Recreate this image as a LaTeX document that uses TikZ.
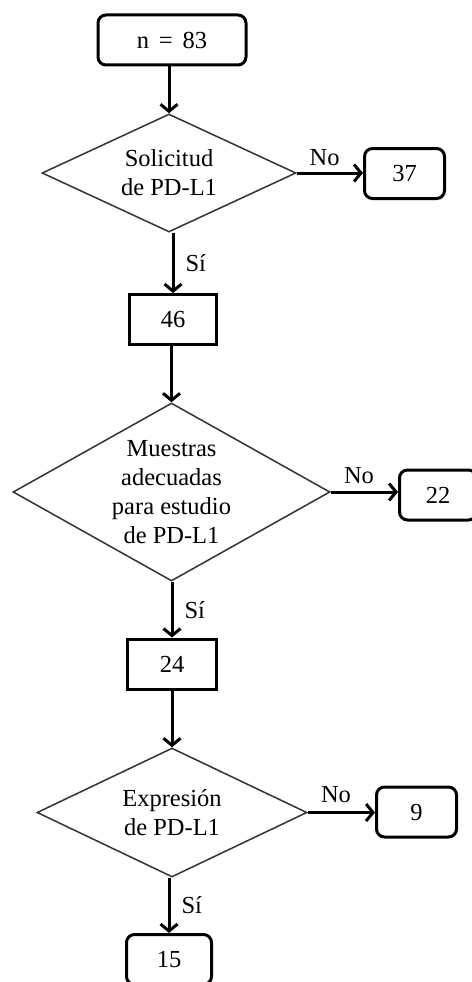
\documentclass[tikz,border=0pt]{standalone}
\usepackage{fontspec}
\setmainfont{Liberation Serif}
\usetikzlibrary{shapes.geometric,arrows.meta}
\begin{document}
\begin{tikzpicture}[x=1pt,y=-1pt,
  txt/.style={font=\fontsize{24.5}{29}\selectfont, align=center, inner sep=0pt},
  rbox/.style={draw, line width=3pt, rounded corners=8pt, minimum height=50pt, inner sep=0pt, font=\fontsize{24.5}{29}\selectfont},
  sbox/.style={rbox, rounded corners=0pt},
  dec/.style={draw=black!80, line width=1.5pt, shape=diamond, inner sep=0pt},
  arr/.style={line width=3pt, -{Straight Barb[length=7pt,width=17pt]}},
  lab/.style={font=\fontsize{24.5}{29}\selectfont, inner sep=2pt}
]
\useasboundingbox (0,0) rectangle (471,982);
\fill[white] (0,0) rectangle (471,982);

\node[rbox, minimum width=148pt] (start) at (172,40) {\spaceskip=0.4em n = 83};

\node[dec, minimum width=254pt, minimum height=118pt] (d1) at (169,173) {};
\node[txt] (t1) at (d1) {Solicitud\\de PD-L1};
\node[rbox, minimum width=80pt] (b37) at (404.5,173.5) {37};
\node[sbox, minimum width=87pt] (b46) at (173,319.5) {46};

\node[dec, minimum width=317pt, minimum height=178pt] (d2) at (171.5,492) {};
\node[txt] (t2) at (d2) {Muestras\\adecuadas\\para estudio\\de PD-L1};
\node[rbox, minimum width=77pt] (b22) at (438,495) {22};
\node[sbox, minimum width=89pt] (b24) at (172,664) {24};

\node[dec, minimum width=270pt, minimum height=129pt] (d3) at (172,812.5) {};
\node[txt] (t3) at (d3) {Expresión\\de PD-L1};
\node[rbox, minimum width=80pt] (b9) at (416.5,812) {9};
\node[rbox, minimum width=85pt] (b15) at (169,959.5) {15};

\draw[arr] (start.south -| d1.north) -- (d1.north);
\draw[arr] (d1.east) -- node[lab, above=4pt, pos=0.42] (no1) {No} (d1.east -| b37.west);
\draw[arr] (d1.south -| b46.north) -- node[lab, right=9pt] (si1) {Sí} (b46.north);

\draw[arr] (b46.south -| d2.north) -- (d2.north);
\draw[arr] (d2.east) -- node[lab, above=5pt, pos=0.42] (no2) {No} (d2.east -| b22.west);
\draw[arr] (d2.south -| b24.north) -- node[lab, right=9pt] (si2) {Sí} (b24.north);

\draw[arr] (b24.south) -- (d3.north);
\draw[arr] (d3.east) -- node[lab, above=6pt, pos=0.42] (no3) {No} (d3.east -| b9.west);
\draw[arr] (d3.south -| b15.north) -- node[lab, right=9pt] (si3) {Sí} (b15.north);
\end{tikzpicture}
\end{document}
